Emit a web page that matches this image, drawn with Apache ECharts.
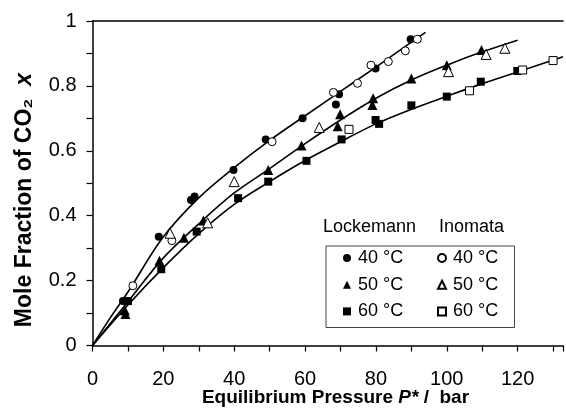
<!DOCTYPE html>
<html>
<head>
<meta charset="utf-8">
<script src="https://cdn.jsdelivr.net/npm/echarts@6/dist/echarts.min.js"></script>
<style>
html,body{margin:0;padding:0;background:#fff;}
#chart{width:566px;height:414px;}
</style>
</head>
<body>
<div id="chart"></div>
<script>
// ---- Data (pressure P* in bar, mole fraction x) ----
var lockemann40 = [[8.6,0.137],[18.7,0.335],[27.8,0.448],[28.8,0.459],[39.8,0.541],[48.9,0.635],[59.3,0.700],[68.7,0.743],[69.6,0.774],[79.9,0.854],[89.8,0.944]];
var inomata40 = [[11.4,0.184],[22.4,0.323],[50.7,0.628],[68.0,0.780],[74.8,0.808],[78.6,0.864],[83.5,0.875],[88.3,0.908],[91.7,0.944]];
var lockemann50 = [[9.1,0.109],[9.3,0.097],[18.9,0.261],[25.8,0.332],[31.3,0.385],[49.6,0.541],[59.0,0.616],[69.2,0.676],[69.9,0.713],[79.0,0.741],[79.2,0.762],[90.0,0.823],[100.0,0.864],[109.8,0.911]];
var inomata50 = [[21.9,0.346],[32.5,0.378],[40.0,0.505],[64.0,0.672],[100.5,0.844],[111.1,0.897],[116.4,0.916]];
var lockemann60 = [[10.0,0.137],[19.4,0.235],[29.4,0.351],[41.1,0.454],[49.6,0.505],[60.4,0.569],[70.3,0.635],[79.9,0.695],[80.9,0.683],[90.0,0.740],[100.0,0.767],[109.6,0.813],[119.9,0.846]];
var inomata60 = [[72.4,0.666],[106.4,0.785],[121.4,0.849],[130.0,0.878]];

// fitted curves
var fit40 = [[0,0],[5,0.085],[10,0.165],[20,0.335],[30,0.455],[40,0.548],[50,0.632],[60,0.708],[70,0.783],[80,0.858],[90,0.935],[94,0.965]];
var fit50 = [[0,0],[10,0.135],[20,0.27],[30,0.375],[40,0.47],[50,0.545],[60,0.622],[70,0.695],[80,0.762],[90,0.818],[100,0.864],[110,0.905],[120,0.941]];
var fit60 = [[0,0],[10,0.125],[20,0.24],[30,0.345],[40,0.435],[50,0.505],[60,0.57],[70,0.628],[80,0.683],[90,0.728],[100,0.768],[110,0.807],[120,0.843],[132.8,0.89]];

var xTickLabels = [0,20,40,60,80,100,120];
var yTickLabels = [0,0.2,0.4,0.6,0.8,1];

var FONT = 'Liberation Sans, Arial, DejaVu Sans, sans-serif';

var chart = echarts.init(document.getElementById('chart'), null, {renderer:'canvas'});

function fitLine(data){
  return {type:'line', data:data, smooth:0.35, symbol:'none', silent:true, z:1,
    lineStyle:{color:'#000', width:1.6}, legendHoverLink:false};
}
function filled(name, data, symbol, size){
  return {type:'scatter', name:name, data:data, symbol:symbol, symbolSize:size, z:3,
    itemStyle:{color:'#000', borderColor:'#000', borderWidth:0, opacity:1}};
}
function hollow(name, data, symbol, size){
  return {type:'scatter', name:name, data:data, symbol:symbol, symbolSize:size, z:4,
    itemStyle:{color:'#fff', borderColor:'#000', borderWidth:1, opacity:1}};
}
function legendLabel(n){ return n.split(' ').slice(1).join(' '); }

var option = {
  animation:false,
  backgroundColor:'#fff',
  textStyle:{fontFamily:FONT},
  grid:{left:92.5, top:21, right:0, bottom:68.5, containLabel:false},
  xAxis:[{
    type:'value', min:0, max:132.8, interval:10,
    axisLine:{show:true, onZero:false, lineStyle:{color:'#000', width:1.5}},
    axisTick:{show:true, inside:false, length:6, lineStyle:{color:'#000', width:1.2}},
    axisLabel:{show:true, margin:24, color:'#000', fontSize:20, fontFamily:FONT,
      formatter:function(v){ for (var i=0;i<xTickLabels.length;i++){ if (Math.abs(v-xTickLabels[i])<1e-6) return String(xTickLabels[i]); } return ''; }},
    splitLine:{show:false}
  },{
    type:'value', position:'top', min:0, max:132.8, gridIndex:0,
    axisLine:{show:true, onZero:false, lineStyle:{color:'#000', width:1.5}},
    axisTick:{show:false}, axisLabel:{show:false}, splitLine:{show:false}
  }],
  yAxis:{
    type:'value', min:0, max:1, interval:0.1,
    axisLine:{show:true, onZero:false, lineStyle:{color:'#000', width:1.5}},
    axisTick:{show:true, inside:false, length:6, lineStyle:{color:'#000', width:1.2}},
    axisLabel:{show:true, margin:16, color:'#000', fontSize:20, fontFamily:FONT,
      formatter:function(v){ for (var i=0;i<yTickLabels.length;i++){ if (Math.abs(v-yTickLabels[i])<1e-6) { var t=yTickLabels[i]; return (t===0||t===1)?String(t):t.toFixed(1);} } return ''; }},
    splitLine:{show:false}
  },
  legend:[{
    data:['Lockemann 40 °C','Lockemann 50 °C','Lockemann 60 °C'],
    orient:'vertical', left:343, top:249, itemWidth:8, itemHeight:8, itemGap:8.7,
    padding:0, formatter:legendLabel, selectedMode:false,
    textStyle:{fontSize:18, lineHeight:18, color:'#000', fontFamily:FONT, padding:[0,0,0,2]}
  },{
    data:['Inomata 40 °C','Inomata 50 °C','Inomata 60 °C'],
    orient:'vertical', left:437, top:249, itemWidth:8, itemHeight:8, itemGap:8.7,
    padding:0, formatter:legendLabel, selectedMode:false,
    textStyle:{fontSize:18, lineHeight:18, color:'#000', fontFamily:FONT, padding:[0,0,0,2]}
  }],
  graphic:[
    {type:'rect', left:323.5, top:243.5, shape:{x:0,y:0,width:188.5,height:81.5}, z:10,
      style:{fill:null, stroke:'#444', lineWidth:1}},
    {type:'text', left:323, top:218, z:10, style:{text:'Lockemann', fontSize:18, fill:'#000', fontFamily:FONT}},
    {type:'text', left:439, top:218, z:10, style:{text:'Inomata', fontSize:18, fill:'#000', fontFamily:FONT}},
    {type:'text', x:335.5, y:398, z:10, style:{
      text:'{b|Equilibrium Pressure }{i|P*}{b| /  bar}', align:'center', verticalAlign:'middle',
      rich:{b:{fontSize:19, fontWeight:'bold', fill:'#000', fontFamily:FONT},
            i:{fontSize:19, fontWeight:'bold', fontStyle:'italic', fill:'#000', fontFamily:FONT}}}},
    {type:'text', x:25, y:200, rotation:Math.PI/2, z:10, style:{
      text:'{b|Mole Fraction of CO₂  }{i|x}', align:'center', verticalAlign:'middle',
      rich:{b:{fontSize:23, fontWeight:'bold', fill:'#000', fontFamily:FONT},
            i:{fontSize:23, fontWeight:'bold', fontStyle:'italic', fill:'#000', fontFamily:FONT}}}}
  ],
  series:[
    fitLine(fit40), fitLine(fit50), fitLine(fit60),
    filled('Lockemann 40 °C', lockemann40, 'circle', 8),
    filled('Lockemann 50 °C', lockemann50, 'triangle', 10),
    filled('Lockemann 60 °C', lockemann60, 'rect', 8),
    hollow('Inomata 40 °C', inomata40, 'circle', 8),
    hollow('Inomata 50 °C', inomata50, 'triangle', 10),
    hollow('Inomata 60 °C', inomata60, 'rect', 8)
  ]
};
chart.setOption(option);
</script>
</body>
</html>
